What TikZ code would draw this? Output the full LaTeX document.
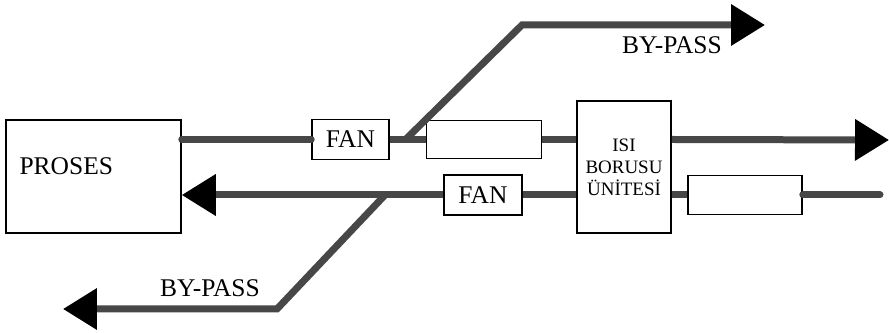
\documentclass[tikz,border=0pt]{standalone}
\usepackage{fontspec}
\setmainfont{Liberation Serif}
\usetikzlibrary{arrows.meta,positioning,calc}

\begin{document}
\begin{tikzpicture}[x=0.02cm,y=-0.02cm,
  box/.style={draw=black,fill=white,line width=0.9pt,inner sep=0pt,font=\fontsize{14.5}{17}\selectfont},
  duct/.style={draw=black!72,line width=0.14cm},
  ar/.style={duct,-{Triangle[length=0.68cm,width=0.8cm,color=black]}},
  lbl/.style={font=\fontsize{14.5}{17}\selectfont,inner sep=0pt}]
  \useasboundingbox (0,0) rectangle (889,333);
  \node[box,minimum width=3.5cm,minimum height=2.26cm] (proses) at (93.5,176.5) {};
  \node[lbl,anchor=west] (prosestxt) at ($(proses.west)+(14,-10)$) {PROSES};
  \node[box,minimum width=1.54cm,minimum height=0.8cm] (fan1) at (350.5,139.5) {FAN};
  \node[box,minimum width=2.3cm,minimum height=0.76cm,right=0.72cm of fan1] (box2) {};
  \node[box,minimum width=1.88cm,minimum height=2.64cm,align=center,
        font=\fontsize{10.8}{12.5}\selectfont] (isi) at (624,167) {ISI\\BORUSU\\ÜNİTESİ};
  \node[box,minimum width=1.56cm,minimum height=0.8cm] (fan2) at (483,195) {FAN};
  \node[box,minimum width=2.28cm,minimum height=0.78cm] (box3) at (745,195) {};
  \coordinate (out1) at (889,140);
  \coordinate (in1) at (880,195);
  \coordinate (j1) at (405,140);
  \coordinate (b1) at (522,25);
  \coordinate (out2) at (765,25);
  \coordinate (j2) at (385,195);
  \coordinate (b2) at (277,309);
  \coordinate (out3) at (63,309);
  % supply line
  \draw[duct,line cap=round] (proses.east |- fan1) -- (fan1);
  \draw[duct] (fan1) -- (box2);
  \draw[duct] (box2) -- (box2 -| isi.west);
  \draw[ar] (box2 -| isi.east) -- (out1);
  % return line
  \draw[duct,line cap=round] (in1) -- (box3);
  \draw[duct] (box3) -- (box3 -| isi.east);
  \draw[duct] (fan2 -| isi.west) -- (fan2);
  \draw[ar] (fan2) -- (fan2 -| proses.east);
  % by-pass
  \draw[ar] (j1) -- (b1) -- (out2);
  \draw[ar] (j2) -- (b2) -- (out3);
  \node[lbl] (bp1) at (672,45) {BY-PASS};
  \node[lbl] (bp2) at (210,288) {BY-PASS};
\end{tikzpicture}
\end{document}
